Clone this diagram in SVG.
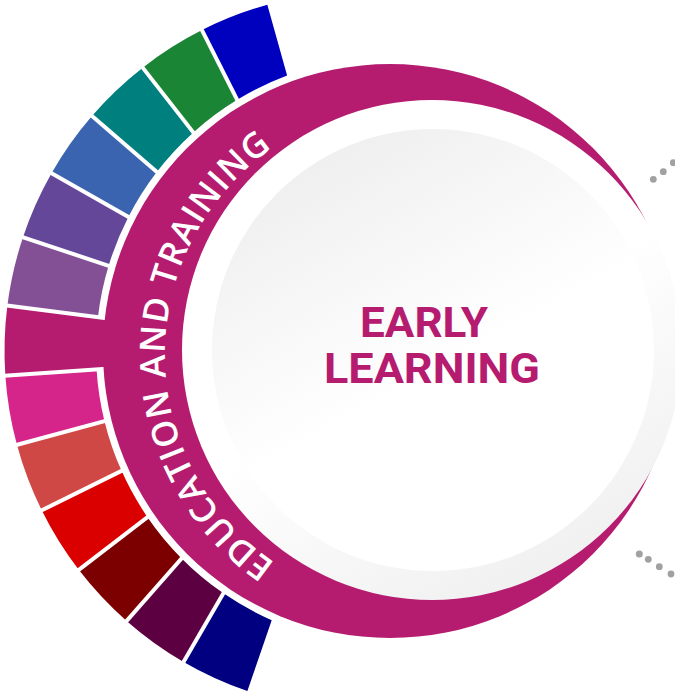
<svg xmlns="http://www.w3.org/2000/svg" width="675" height="692" viewBox="0 0 675 692">
  <style>
    .div { stroke: #ffffff; stroke-width: 4; fill: none; }
    .dot { fill: #a1a1a4; }
    .ringtxt { font-family: "Open Sans", "Liberation Sans", sans-serif; font-weight: 600; font-size: 35px; fill: #ffffff; letter-spacing: 1px; }
    .title { font-family: Roboto, "Liberation Sans", sans-serif; font-weight: 700; font-size: 42px; fill: #b51c6f; }
  </style>
  <defs>
    <linearGradient id="gOuter" x1="0.25" y1="0.05" x2="0.75" y2="0.95">
      <stop offset="0.5" stop-color="#ffffff"/>
      <stop offset="1" stop-color="#f0f0f0"/>
    </linearGradient>
    <linearGradient id="gInner" x1="0.25" y1="0.05" x2="0.75" y2="0.95">
      <stop offset="0" stop-color="#efefef"/>
      <stop offset="0.55" stop-color="#ffffff"/>
    </linearGradient>
    <path id="ringPath" d="M275.35,562.93 A252,252 0 0 1 330.81,117.70"/>
  </defs>
  <rect width="675" height="692" fill="#ffffff"/>

  <g id="segments">
    <g id="seg-1"><path fill="#0000bf" d="M267.33,4.73 A359.5,359.5 0 0 0 201.97,30.07 L237.19,99.83 A294,294 0 0 1 287.11,75.59 Z"/></g>
    <g id="seg-2"><path fill="#1a8535" d="M201.97,30.07 A359.5,359.5 0 0 0 142.73,67.68 L193.33,132.47 A294,294 0 0 1 237.19,99.83 Z"/></g>
    <g id="seg-3"><path fill="#007f7f" d="M142.73,67.68 A359.5,359.5 0 0 0 91.97,115.99 L156.79,171.99 A294,294 0 0 1 193.33,132.47 Z"/></g>
    <g id="seg-4"><path fill="#3a64af" d="M91.97,115.99 A359.5,359.5 0 0 0 51.52,173.19 L128.34,216.90 A294,294 0 0 1 156.79,171.99 Z"/></g>
    <g id="seg-5"><path fill="#65479a" d="M51.52,173.19 A359.5,359.5 0 0 0 22.98,237.22 L108.61,265.79 A294,294 0 0 1 128.34,216.90 Z"/></g>
    <g id="seg-6"><path fill="#834f95" d="M22.98,237.22 A359.5,359.5 0 0 0 7.38,305.56 L97.96,317.10 A294,294 0 0 1 108.61,265.79 Z"/></g>
    <g id="seg-7"><path fill="#b51c6f" d="M7.38,305.56 A359.5,359.5 0 0 0 5.34,375.64 L112.54,368.28 A278,278 0 0 1 113.83,319.12 Z"/></g>
    <g id="seg-8"><path fill="#d6258a" d="M5.34,375.64 A359.5,359.5 0 0 0 16.94,444.79 L104.48,421.13 A294,294 0 0 1 96.58,369.38 Z"/></g>
    <g id="seg-9"><path fill="#d04845" d="M16.94,444.79 A359.5,359.5 0 0 0 41.74,510.33 L121.56,470.87 A294,294 0 0 1 104.48,421.13 Z"/></g>
    <g id="seg-10"><path fill="#da0000" d="M41.74,510.33 A359.5,359.5 0 0 0 78.77,569.86 L147.45,517.17 A294,294 0 0 1 121.56,470.87 Z"/></g>
    <g id="seg-11"><path fill="#7d0000" d="M78.77,569.86 A359.5,359.5 0 0 0 126.59,620.95 L181.61,558.38 A294,294 0 0 1 147.45,517.17 Z"/></g>
    <g id="seg-12"><path fill="#5c0042" d="M126.59,620.95 A359.5,359.5 0 0 0 183.60,661.97 L223.46,593.27 A294,294 0 0 1 181.61,558.38 Z"/></g>
    <g id="seg-13"><path fill="#000080" d="M183.60,661.97 A359.5,359.5 0 0 0 247.38,691.05 L271.70,620.14 A294,294 0 0 1 223.46,593.27 Z"/></g>
    <g id="dividers">
      <line class="div" x1="255.83" y1="136.75" x2="199.95" y2="26.06"/>
      <line class="div" x1="216.28" y1="161.86" x2="139.96" y2="64.13"/>
      <line class="div" x1="182.39" y1="194.11" x2="88.56" y2="113.05"/>
      <line class="div" x1="155.39" y1="232.30" x2="47.61" y2="170.97"/>
      <line class="div" x1="136.34" y1="275.04" x2="18.71" y2="235.79"/>
      <line class="div" x1="125.92" y1="320.66" x2="2.91" y2="304.99"/>
      <line class="div" x1="124.56" y1="367.45" x2="0.86" y2="375.95"/>
      <line class="div" x1="132.30" y1="413.62" x2="12.59" y2="445.97"/>
      <line class="div" x1="148.86" y1="457.37" x2="37.71" y2="512.32"/>
      <line class="div" x1="173.58" y1="497.11" x2="75.20" y2="572.60"/>
      <line class="div" x1="205.50" y1="531.22" x2="123.61" y2="624.33"/>
      <line class="div" x1="243.57" y1="558.60" x2="181.34" y2="665.86"/>
    </g>
  </g>

  <g id="ring">
    <circle cx="390" cy="351" r="287" fill="#b51c6f"/>
  </g>

  <g id="center">
    <circle cx="432" cy="350" r="250" fill="url(#gOuter)"/>
    <circle cx="433" cy="350" r="221" fill="url(#gInner)"/>
    <text class="title" x="360" y="337" textLength="128" lengthAdjust="spacingAndGlyphs">EARLY</text>
    <text class="title" x="324" y="383" textLength="216" lengthAdjust="spacingAndGlyphs">LEARNING</text>
  </g>

  <g id="ring-label">
    <text class="ringtxt"><textPath href="#ringPath" textLength="488" lengthAdjust="spacing">EDUCATION AND TRAINING</textPath></text>
  </g>

  <g id="connectors">
    <circle class="dot" cx="653.3" cy="179.3" r="3.4"/>
    <circle class="dot" cx="663.3" cy="171.7" r="3.4"/>
    <circle class="dot" cx="673.3" cy="162.7" r="3.4"/>
    <circle class="dot" cx="639.3" cy="554" r="3.5"/>
    <circle class="dot" cx="648.3" cy="559.3" r="3.4"/>
    <circle class="dot" cx="659.3" cy="566.7" r="3.4"/>
    <circle class="dot" cx="671" cy="574" r="3.4"/>
  </g>
</svg>
